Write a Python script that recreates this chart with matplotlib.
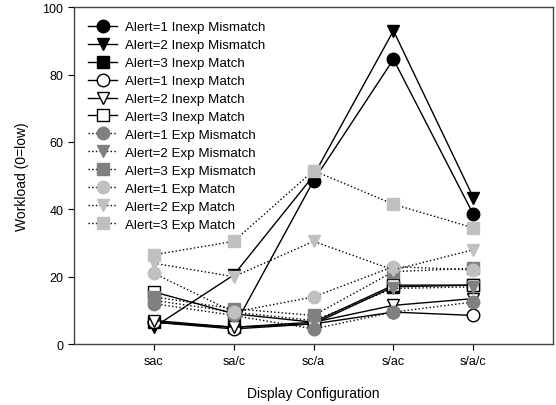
import numpy as np
import matplotlib.pyplot as plt

plt.rcParams['font.family'] = ['Liberation Sans', 'DejaVu Sans']

# display configurations
configs = ["sac", "sa/c", "sc/a", "s/ac", "s/a/c"]
x = np.arange(1, 6)

# workload values
a1_inexp_mis = [6.5, 5.0, 48.5, 84.5, 38.5]
a2_inexp_mis = [5.0, 20.5, 50.0, 93.0, 43.5]
a3_inexp_mis = [6.5, 5.0, 6.0, 17.0, 17.5]
a1_inexp_mat = [6.5, 4.5, 6.0, 9.5, 8.5]
a2_inexp_mat = [7.0, 5.0, 6.5, 11.5, 13.5]
a3_inexp_mat = [15.5, 9.0, 6.5, 17.5, 17.5]
a1_exp_mis = [12.0, 8.5, 4.5, 9.5, 12.5]
a2_exp_mis = [13.0, 9.5, 7.0, 16.5, 17.0]
a3_exp_mis = [14.0, 10.5, 8.5, 21.5, 22.5]
a1_exp_mat = [21.0, 9.5, 14.0, 23.0, 22.0]
a2_exp_mat = [24.0, 20.0, 30.5, 22.0, 28.0]
a3_exp_mat = [26.5, 30.5, 51.5, 41.5, 34.5]

mid = "#808080"
light = "#c0c0c0"

series = [
    ("Alert=1 Inexp Mismatch", a1_inexp_mis, "o", "black", "black", "-"),
    ("Alert=2 Inexp Mismatch", a2_inexp_mis, "v", "black", "black", "-"),
    ("Alert=3 Inexp Match", a3_inexp_mis, "s", "black", "black", "-"),
    ("Alert=1 Inexp Match", a1_inexp_mat, "o", "white", "black", "-"),
    ("Alert=2 Inexp Match", a2_inexp_mat, "v", "white", "black", "-"),
    ("Alert=3 Inexp Match", a3_inexp_mat, "s", "white", "black", "-"),
    ("Alert=1 Exp Mismatch", a1_exp_mis, "o", mid, mid, ":"),
    ("Alert=2 Exp Mismatch", a2_exp_mis, "v", mid, mid, ":"),
    ("Alert=3 Exp Mismatch", a3_exp_mis, "s", mid, mid, ":"),
    ("Alert=1 Exp Match", a1_exp_mat, "o", light, light, ":"),
    ("Alert=2 Exp Match", a2_exp_mat, "v", light, light, ":"),
    ("Alert=3 Exp Match", a3_exp_mat, "s", light, light, ":"),
]

fig, ax = plt.subplots(figsize=(5.56, 4.06), dpi=100)
fig.subplots_adjust(left=0.133, right=0.995, top=0.98, bottom=0.15)

for label, y, m, fc, ec, ls in series:
    ax.plot(x, y, color="black", linestyle=ls, linewidth=1.0,
            marker=m, markersize=9, markerfacecolor=fc, markeredgecolor=ec,
            markeredgewidth=1.0, label=label)

ax.set_xlim(0, 6)
ax.set_ylim(0, 100)
ax.set_xticks(x)
ax.set_xticklabels(configs)
ax.set_yticks([0, 20, 40, 60, 80, 100])
ax.tick_params(direction="out", length=4, labelsize=9, width=0.8)
ax.set_xlabel("Display Configuration", fontsize=10, labelpad=14)
ax.set_ylabel("Workload (0=low)", fontsize=10, labelpad=10)
for s in ax.spines.values():
    s.set_color("#444444")
    s.set_linewidth(1.0)

ax.legend(loc="upper left", frameon=False, fontsize=9.6, handlelength=2.2,
          labelspacing=0.42, borderaxespad=0.65, handletextpad=0.6)

plt.savefig("out.png", dpi=100)
